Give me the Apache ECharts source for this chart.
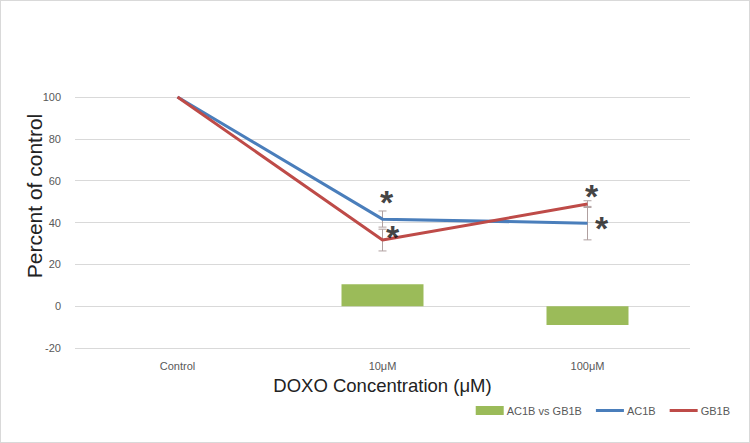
<!DOCTYPE html>
<html>
<head>
<meta charset="utf-8">
<script src="https://cdn.jsdelivr.net/npm/echarts@6/dist/echarts.min.js"></script>
<style>
  html, body { margin: 0; padding: 0; background: #fff; }
  #chart { width: 748px; height: 441px; border: 1px solid #d9d9d9; }
</style>
</head>
<body>
<div id="chart"></div>
<script>
const categories = ["Control", "10\u03bcM", "100\u03bcM"];
const ac1b = [100, 41.6, 39.7];
const gb1b = [100, 31.6, 48.8];
const diffBars = ["-", 10.5, -9];
// error bars: [categoryIndex, low, high]
const ac1bErr = [[1, 37.8, 45.5], [2, 31.7, 47.7]];
const gb1bErr = [[1, 26.4, 36.8], [2, 47.2, 50.4]];
// significance stars: [categoryIndex, value, xOffset]
const stars = [[1, 50, 4], [1, 33, 10], [2, 52.5, 4], [2, 37.5, 14]];

const BLUE = "#4a7ebb";
const RED = "#be4b48";
const GREEN = "#9bbb59";

function errorSeries(data, color) {
  return {
    type: "custom",
    silent: true,
    z: 1,
    data: data,
    renderItem: (params, api) => {
      const x = api.value(0);
      const lo = api.coord([x, api.value(1)]);
      const hi = api.coord([x, api.value(2)]);
      const cap = 4;
      const style = { stroke: color, lineWidth: 1 };
      return {
        type: "group",
        children: [
          { type: "line", shape: { x1: lo[0], y1: lo[1], x2: hi[0], y2: hi[1] }, style },
          { type: "line", shape: { x1: lo[0] - cap, y1: lo[1], x2: lo[0] + cap, y2: lo[1] }, style },
          { type: "line", shape: { x1: hi[0] - cap, y1: hi[1], x2: hi[0] + cap, y2: hi[1] }, style },
        ],
      };
    },
  };
}

const chart = echarts.init(document.getElementById("chart"), undefined, { renderer: "svg" });
chart.setOption({
  animation: false,
  textStyle: { fontFamily: "Liberation Sans, Arial, sans-serif" },
  grid: { left: 74, right: 59, top: 96, bottom: 94 },
  graphic: [
    {
      type: "text",
      x: 33,
      y: 195,
      rotation: Math.PI / 2,
      style: {
        text: "Percent of control",
        fill: "#222",
        fontSize: 21,
        fontFamily: "Liberation Sans, Arial, sans-serif",
        align: "center",
        verticalAlign: "middle",
      },
    },
  ],
  legend: {
    right: 14,
    bottom: 21,
    itemGap: 14,
    itemWidth: 28,
    itemHeight: 9,
    textStyle: { color: "#595959", fontSize: 11, fontFamily: "Liberation Sans, sans-serif", padding: [0, 0, 0, -2] },
    data: [
      { name: "AC1B vs GB1B", icon: "rect" },
      { name: "AC1B", icon: "path://M0,0H28V3H0Z" },
      { name: "GB1B", icon: "path://M0,0H28V3H0Z" },
    ],
  },
  xAxis: {
    type: "category",
    data: categories,
    axisLine: { show: false },
    axisTick: { show: false },
    axisLabel: { color: "#595959", fontSize: 11, margin: 12 },
    name: "DOXO Concentration (\u03bcM)",
    nameLocation: "middle",
    nameGap: 25,
    nameTextStyle: { color: "#222", fontSize: 18.5 },
  },
  yAxis: {
    type: "value",
    min: -20,
    max: 100,
    interval: 20,
    axisLine: { show: false },
    axisTick: { show: false },
    axisLabel: { color: "#595959", fontSize: 11, margin: 14 },
    splitLine: { lineStyle: { color: "#d9d9d9" } },
  },
  series: [
    {
      name: "AC1B vs GB1B",
      type: "bar",
      data: diffBars,
      barWidth: "40%",
      itemStyle: { color: GREEN },
      z: 1,
    },
    {
      name: "AC1B",
      type: "line",
      data: ac1b,
      showSymbol: false,
      symbol: "none",
      lineStyle: { color: BLUE, width: 3 },
      itemStyle: { color: BLUE },
      z: 3,
    },
    {
      name: "GB1B",
      type: "line",
      data: gb1b,
      showSymbol: false,
      symbol: "none",
      lineStyle: { color: RED, width: 3 },
      itemStyle: { color: RED },
      z: 3,
    },
    errorSeries(ac1bErr, "#b0a0a0"),
    errorSeries(gb1bErr, "#b0a0a0"),
    {
      type: "scatter",
      silent: true,
      symbolSize: 0,
      data: stars.map((s) => ({
        value: [s[0], s[1]],
        label: { offset: [s[2], 0] },
      })),
      label: {
        show: true,
        position: "inside",
        formatter: "*",
        color: "#111",
        fontSize: 34,
        fontWeight: "bold",
        fontFamily: "Liberation Sans, Arial, sans-serif",
      },
      z: 4,
    },
  ],
});
</script>
</body>
</html>
